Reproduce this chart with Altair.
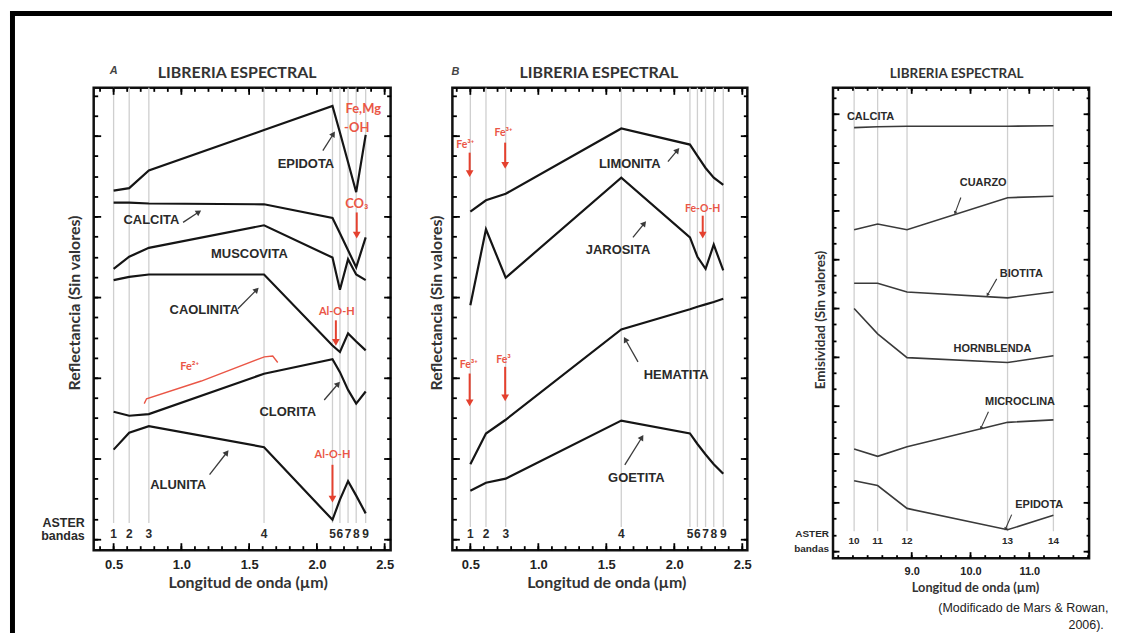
import math
import altair as alt
import pandas as pd

# ---------------- data ----------------
# ASTER band positions as drawn on the VNIR/SWIR panels (µm)
bands_vs = [0.50, 0.615, 0.76, 1.61, 2.115, 2.17, 2.23, 2.29, 2.36]
band_names_vs = ["1", "2", "3", "4", "5", "6", "7", "8", "9"]
# ASTER TIR band positions as drawn (µm)
bands_tir = [8.02, 8.42, 8.92, 10.63, 11.41]
band_names_tir = ["10", "11", "12", "13", "14"]

# Panel A (reflectance, arbitrary units)
epidota_a = [4.32, 4.35, 4.57, 5.07, 5.37, 5.04, 4.67, 4.30, 5.01]
calcita_a = [4.17, 4.17, 4.16, 4.15, 3.98, 3.79, 3.58, 3.37, 3.74]
muscovita_a = [3.35, 3.50, 3.61, 3.89, 3.49, 3.09, 3.47, 3.28, 3.21]
caolinita_a = [3.21, 3.25, 3.28, 3.28, 2.40, 2.32, 2.55, 2.45, 2.34]
clorita_a = [1.58, 1.53, 1.55, 2.05, 2.23, 2.07, 1.85, 1.68, 1.83]
alunita_a = [1.11, 1.32, 1.40, 1.14, 0.24, 0.49, 0.72, 0.54, 0.32]

# Panel B
limonita_b = [4.06, 4.20, 4.28, 5.09, 4.89, 4.75, 4.60, 4.48, 4.39]
jarosita_b = [2.90, 3.84, 3.24, 4.48, 3.74, 3.50, 3.35, 3.65, 3.33]
hematita_b = [0.93, 1.31, 1.48, 2.60, 2.85, 2.88, 2.91, 2.94, 2.98]
goetita_b = [0.60, 0.70, 0.75, 1.47, 1.31, 1.18, 1.05, 0.93, 0.81]

# Panel C (emissivity, arbitrary units)
calcita_c = [8.71, 8.73, 8.74, 8.74, 8.75]
cuarzo_c = [6.61, 6.73, 6.61, 7.27, 7.30]
biotita_c = [5.51, 5.51, 5.33, 5.21, 5.33]
hornblenda_c = [4.99, 4.47, 3.98, 3.88, 4.02]
microclina_c = [2.10, 1.95, 2.15, 2.65, 2.70]
epidota_c = [1.45, 1.35, 0.88, 0.44, 0.74]

# annotation labels (text, x, y) in data units
labels_a = [("EPIDOTA", 1.919, 4.646), ("CALCITA", 0.779, 3.951), ("MUSCOVITA", 1.502, 3.535),
            ("CAOLINITA", 1.169, 2.84), ("CLORITA", 1.785, 1.58), ("ALUNITA", 0.976, 0.675)]
arrows_a = [(2.044, 4.815, 2.118, 5.012), (1.0125, 3.926, 1.123, 4.049), (1.417, 2.856, 1.551, 3.083),
            (2.054, 1.725, 2.152, 1.917), (1.208, 0.799, 1.331, 1.065)]
red_labels_a = [("Fe,Mg", 2.342, 5.333), ("-OH", 2.294, 5.099), ("CO₃", 2.294, 4.152)]
red_labels_a2 = [("Al-O-H", 2.147, 2.815), ("Al-O-H", 2.115, 1.045), ("Fe²⁺", 1.061, 2.136)]
red_arrows_a = [(2.294, 4.049, 2.294, 3.781), (2.140, 2.712, 2.140, 2.453), (2.115, 0.922, 2.115, 0.510)]
bracket_x = [0.726, 0.743, 1.147, 1.612, 1.674, 1.711]
bracket_y = [1.68, 1.74, 1.96, 2.26, 2.27, 2.19]

labels_b = [("LIMONITA", 1.672, 4.654), ("JAROSITA", 1.586, 3.584),
            ("HEMATITA", 2.014, 2.033), ("GOETITA", 1.721, 0.757)]
arrows_b = [(1.953, 4.679, 2.019, 4.811), (1.696, 3.741, 1.775, 3.905),
            (1.733, 2.198, 1.643, 2.465), (1.636, 0.922, 1.758, 1.251)]
red_labels_b = [("Fe³⁺", 0.463, 4.885), ("Fe³⁺", 0.744, 5.037), ("Fe-O-H", 2.209, 4.09),
                ("Fe³⁺", 0.488, 2.157), ("Fe³", 0.744, 2.219)]
red_arrows_b = [(0.495, 4.79, 0.495, 4.543), (0.756, 4.914, 0.756, 4.646), (2.209, 4.009, 2.209, 3.781),
                (0.495, 2.053, 0.495, 1.704), (0.756, 2.136, 0.756, 1.765)]

labels_c = [("CALCITA", 8.30, 8.934), ("CUARZO", 10.215, 7.582), ("BIOTITA", 10.864, 5.703),
            ("HORNBLENDA", 10.373, 4.166), ("MICROCLINA", 10.842, 3.074), ("EPIDOTA", 11.169, 0.943)]
arrows_c = [(9.836, 7.275, 9.741, 6.967), (10.446, 5.60, 10.293, 5.281),
            (10.305, 2.869, 10.181, 2.541), (10.70, 0.752, 10.598, 0.465)]

# ---------------- styling / helpers ----------------
FONT = "Liberation Sans"
TFONT = "Lato"
RED = "#e4412f"
RED_TXT = "#ea5646"
TICKW = 1.8
dummy = pd.DataFrame({"d": [0]})


def sc(dom):
    return alt.Scale(domain=dom, nice=False, zero=False)


def lines_layer(xs, ys, bands, series, color, width):
    rows = []
    for name, vals in series.items():
        for b, v in zip(bands, vals):
            rows.append({"mineral": name, "x": b, "y": v})
    return alt.Chart(pd.DataFrame(rows)).mark_line(color=color, strokeWidth=width).encode(
        x=alt.X("x:Q", scale=xs, axis=None), y=alt.Y("y:Q", scale=ys, axis=None),
        detail="mineral:N")


def band_layer(xs, ys, bands, y0, y1):
    df = pd.DataFrame({"x": bands, "y0": [y0] * len(bands), "y1": [y1] * len(bands)})
    return alt.Chart(df).mark_rule(color="#cfcfcf", strokeWidth=1.3).encode(
        x=alt.X("x:Q", scale=xs, axis=None), y=alt.Y("y0:Q", scale=ys, axis=None), y2="y1:Q")


def text_layer(xs, ys, items, **kw):
    df = pd.DataFrame(items, columns=["t", "x", "y"])
    return alt.Chart(df).mark_text(**kw).encode(
        x=alt.X("x:Q", scale=xs, axis=None), y=alt.Y("y:Q", scale=ys, axis=None), text="t:N")


def arrow_layers(xs, ys, arrows, pxx, pxy, color, width, head):
    df = pd.DataFrame(arrows, columns=["x1", "y1", "x2", "y2"])
    df["ang"] = [math.degrees(math.atan2((r.x2 - r.x1) * pxx, (r.y2 - r.y1) * pxy)) % 360
                 for r in df.itertuples()]
    shaft = alt.Chart(df).mark_rule(color=color, strokeWidth=width).encode(
        x=alt.X("x1:Q", scale=xs, axis=None), y=alt.Y("y1:Q", scale=ys, axis=None), x2="x2:Q", y2="y2:Q")
    tip = alt.Chart(df).mark_point(shape="triangle", filled=True, color=color, size=head, opacity=1).encode(
        x=alt.X("x2:Q", scale=xs, axis=None), y=alt.Y("y2:Q", scale=ys, axis=None),
        angle=alt.Angle("ang:Q", scale=None))
    return [shaft, tip]


def xtick_layers(xs, vals, length, H):
    # inward ticks on the bottom and top edges, at the axis tick values
    df = pd.DataFrame({"v": vals})
    base = alt.Chart(df).mark_rule(color="#000", strokeWidth=TICKW)
    return [
        base.encode(x=alt.X("v:Q", scale=xs, axis=None), y=alt.value(H), y2=alt.value(H - length)),
        base.encode(x=alt.X("v:Q", scale=xs, axis=None), y=alt.value(0), y2=alt.value(length)),
    ]


def axis_layers(xs, ys, xdom, ydom, xlab, xmaj, xmin, ymaj, ymin, fmt, lsize, lpad, H, majlen=7, minlen=4):
    df = pd.DataFrame({"x": [xdom[0]], "y": [ydom[0]]})
    base = alt.Chart(df).mark_point(opacity=0)

    def yax(orient, vals, length):
        return alt.Axis(orient=orient, values=vals, tickSize=length, offset=-length, labels=False,
                        domain=False, grid=False, title=None, ticks=True, tickColor="#000",
                        tickWidth=TICKW, tickOpacity=1)

    xlabels = alt.Axis(orient="bottom", values=xlab, ticks=False, domain=False, grid=False, title=None,
                       format=fmt, labelFont=FONT, labelFontSize=lsize, labelFontWeight="bold",
                       labelColor="#222", labelPadding=lpad, labelFlush=False, labelOverlap=False)
    return [
        base.encode(x=alt.X("x:Q", scale=xs, axis=xlabels),
                    y=alt.Y("y:Q", scale=ys, axis=yax("left", ymaj, majlen))),
        base.encode(x=alt.X("x:Q", scale=xs, axis=None),
                    y=alt.Y("y:Q", scale=ys, axis=yax("left", ymin, minlen))),
        base.encode(x=alt.X("x:Q", scale=xs, axis=None),
                    y=alt.Y("y:Q", scale=ys, axis=yax("right", ymaj, majlen))),
        base.encode(x=alt.X("x:Q", scale=xs, axis=None),
                    y=alt.Y("y:Q", scale=ys, axis=yax("right", ymin, minlen))),
        *xtick_layers(xs, xmaj, majlen, H),
        *xtick_layers(xs, xmin, minlen, H),
    ]


def ptext(text, x, y, size, font=TFONT, weight="bold", angle=0, color="#333", style=None, align="center"):
    kw = dict(text=text, fontSize=size, font=font, fontWeight=weight, color=color,
              align=align, baseline="middle")
    if angle:
        kw["angle"] = angle
    if style:
        kw["fontStyle"] = style
    return alt.Chart(dummy).mark_text(**kw).encode(x=alt.value(x), y=alt.value(y))


# ---------------- panel A ----------------
WA, HA = 298, 464
XA, YA = [0.353, 2.544], [-0.136, 5.593]
xa, ya = sc(XA), sc(YA)
pxxA, pxyA = WA / (XA[1] - XA[0]), HA / (YA[1] - YA[0])
xt_vs = [0.5, 1.0, 1.5, 2.0, 2.5]
xm_vs = [round(0.4 + 0.1 * i, 2) for i in range(22)]
ym_vs = [0, 1, 2, 3, 4, 5]
yn_vs = [round(0.25 * i, 2) for i in range(23)]

# outer black border of the figure (top and left edges)
frame_top = alt.Chart(dummy).mark_rect(color="black").encode(
    x=alt.value(-84), x2=alt.value(1022), y=alt.value(-77), y2=alt.value(-72))
frame_left = alt.Chart(dummy).mark_rect(color="black").encode(
    x=alt.value(-84), x2=alt.value(-79), y=alt.value(-77), y2=alt.value(547))

bracket = alt.Chart(pd.DataFrame({"x": bracket_x, "y": bracket_y, "o": list(range(len(bracket_x)))})).mark_line(
    color=RED_TXT, strokeWidth=1.4).encode(
    x=alt.X("x:Q", scale=xa, axis=None), y=alt.Y("y:Q", scale=ya, axis=None), order="o:Q")

band_txt_a = [(n, b, 0.062) for n, b in zip(band_names_vs, bands_vs)]
aster_a = [("ASTER", 0.287, 0.201), ("bandas", 0.287, 0.037)]

panel_a = alt.layer(
    frame_top, frame_left,
    band_layer(xa, ya, bands_vs, 0.2, YA[1]),
    lines_layer(xa, ya, bands_vs, {"EPIDOTA": epidota_a, "CALCITA": calcita_a, "MUSCOVITA": muscovita_a,
                                   "CAOLINITA": caolinita_a, "CLORITA": clorita_a, "ALUNITA": alunita_a},
                "#151515", 2.2),
    bracket,
    *arrow_layers(xa, ya, arrows_a, pxxA, pxyA, "#3a3a3a", 1.3, 42),
    *arrow_layers(xa, ya, red_arrows_a, pxxA, pxyA, RED, 2.0, 60),
    text_layer(xa, ya, labels_a, font=FONT, fontSize=13, fontWeight="bold", color="#2a2a2a"),
    text_layer(xa, ya, red_labels_a, font=TFONT, fontSize=13, fontWeight="bold", color=RED_TXT),
    text_layer(xa, ya, red_labels_a2, font=TFONT, fontSize=11, fontWeight="bold", color=RED_TXT),
    text_layer(xa, ya, band_txt_a, font=FONT, fontSize=12, fontWeight="bold", color="#2a2a2a"),
    text_layer(xa, ya, aster_a, font=FONT, fontSize=12.5, fontWeight="bold", color="#2a2a2a", align="right"),
    *axis_layers(xa, ya, XA, YA, xt_vs, xt_vs, xm_vs, ym_vs, yn_vs, ".1f", 13, 8, HA),
    ptext("A", 20, -17, 11, font=FONT, style="italic", color="#444"),
    ptext("LIBRERIA ESPECTRAL", 144, -15, 16),
    ptext("Reflectancia (Sin valores)", -19, 216, 16, angle=270),
    ptext("Longitud de onda (µm)", 155, 497, 16),
).resolve_axis(x="independent", y="independent").properties(width=WA, height=HA)

# ---------------- panel B ----------------
WB, HB = 296, 464
XB, YB = [0.368, 2.537], [-0.136, 5.593]
xb, yb = sc(XB), sc(YB)
pxxB, pxyB = WB / (XB[1] - XB[0]), HB / (YB[1] - YB[0])
panel_b = alt.layer(
    band_layer(xb, yb, bands_vs, 0.15, YB[1]),
    lines_layer(xb, yb, bands_vs, {"LIMONITA": limonita_b, "JAROSITA": jarosita_b,
                                   "HEMATITA": hematita_b, "GOETITA": goetita_b}, "#151515", 2.2),
    *arrow_layers(xb, yb, arrows_b, pxxB, pxyB, "#3a3a3a", 1.3, 42),
    *arrow_layers(xb, yb, red_arrows_b, pxxB, pxyB, RED, 2.0, 60),
    text_layer(xb, yb, labels_b, font=FONT, fontSize=13, fontWeight="bold", color="#2a2a2a"),
    text_layer(xb, yb, red_labels_b, font=TFONT, fontSize=10.5, fontWeight="bold", color=RED_TXT),
    text_layer(xb, yb, band_txt_a, font=FONT, fontSize=12, fontWeight="bold", color="#2a2a2a"),
    *axis_layers(xb, yb, XB, YB, xt_vs, xt_vs, xm_vs, ym_vs, yn_vs, ".1f", 13, 8, HB),
    ptext("B", 3, -16, 11, font=FONT, style="italic", color="#444"),
    ptext("LIBRERIA ESPECTRAL", 147, -15, 16),
    ptext("Reflectancia (Sin valores)", -15, 216, 16, angle=270),
    ptext("Longitud de onda (µm)", 155, 497, 16),
).resolve_axis(x="independent", y="independent").properties(width=WB, height=HB)

# ---------------- panel C ----------------
WC, HC = 257, 472
XC, YC = [7.661, 12.017], [-0.143, 9.529]
xc, yc = sc(XC), sc(YC)
pxxC, pxyC = WC / (XC[1] - XC[0]), HC / (YC[1] - YC[0])
xt_c = [9.0, 10.0, 11.0]
xm_c = [round(7.75 + 0.25 * i, 2) for i in range(18)]
ym_c = list(range(10))
yn_c = [round(i / 3, 3) for i in range(29)]
band_txt_c = [(n, b, 0.205) for n, b in zip(band_names_tir, bands_tir)]
aster_c = [("ASTER", 7.593, 0.348), ("bandas", 7.593, 0.041)]

panel_c = alt.layer(
    band_layer(xc, yc, bands_tir, 0.41, YC[1]),
    lines_layer(xc, yc, bands_tir, {"CALCITA": calcita_c, "CUARZO": cuarzo_c, "BIOTITA": biotita_c,
                                    "HORNBLENDA": hornblenda_c, "MICROCLINA": microclina_c,
                                    "EPIDOTA": epidota_c}, "#3a3a3a", 1.6),
    *arrow_layers(xc, yc, arrows_c, pxxC, pxyC, "#3a3a3a", 1.1, 14),
    text_layer(xc, yc, labels_c, font=FONT, fontSize=11, fontWeight="bold", color="#2a2a2a"),
    text_layer(xc, yc, band_txt_c, font=FONT, fontSize=10, fontWeight="bold", color="#2a2a2a"),
    text_layer(xc, yc, aster_c, font=FONT, fontSize=10, fontWeight="bold", color="#2a2a2a", align="right"),
    *axis_layers(xc, yc, XC, YC, xt_c, xt_c, xm_c, ym_c, yn_c, ".1f", 11, 7, HC, majlen=6, minlen=3),
    ptext("LIBRERIA ESPECTRAL", 124, -14, 13.5),
    ptext("Emisividad (Sin valores)", -12, 233, 13.5, angle=270),
    ptext("Longitud de onda (µm)", 143, 502, 12.8),
    ptext("(Modificado de Mars & Rowan,", 191, 522, 12.5, font=FONT, weight="normal", color="#222"),
    ptext("2006).", 254, 539, 12.5, font=FONT, weight="normal", color="#222"),
).resolve_axis(x="independent", y="independent").properties(width=WC, height=HC)


def spacer(w):
    return alt.Chart(dummy).mark_point(opacity=0).encode(x=alt.value(0), y=alt.value(0)).properties(
        width=w, height=HA, view=alt.ViewBackground(strokeWidth=0, strokeOpacity=0))


chart = alt.hconcat(panel_a, spacer(62), panel_b, spacer(86), panel_c, spacing=0, bounds="flush").properties(
    padding=0, background="white"
).configure_view(stroke="#111", strokeWidth=2.5)

chart.save("out.html", embed_options={"renderer": "svg", "actions": False})
